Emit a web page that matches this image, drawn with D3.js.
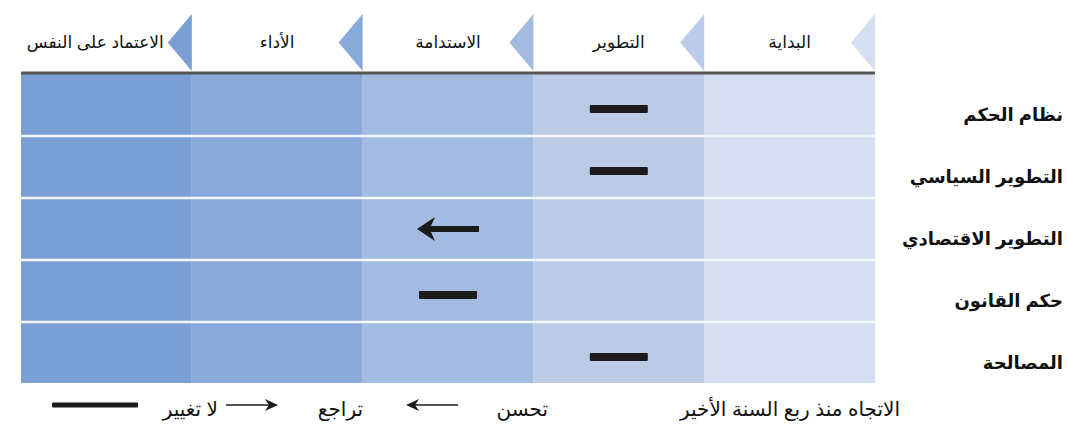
<!DOCTYPE html>
<html>
<head>
<meta charset="utf-8">
<script src="https://cdn.jsdelivr.net/npm/d3@7"></script>
<style>
  body { margin: 0; background: #fff; }
  svg { display: block; font-family: Arial, "Liberation Sans", "DejaVu Sans", sans-serif; }
</style>
</head>
<body>
<svg id="chart" width="1067" height="424"></svg>
<script>
// stages, right to left
const stages = ["البداية", "التطوير", "الاستدامة", "الأداء", "الاعتماد على النفس"];
const stageColors = ["#d5dff1", "#bccbe8", "#a3bbe0", "#89a9da", "#799fd4"];
const areas = ["نظام الحكم", "التطوير السياسي", "التطوير الاقتصادي", "حكم القانون", "المصالحة"];
// stage reached by each area, and trend since last quarter
const areaStage = ["التطوير", "التطوير", "الاستدامة", "الاستدامة", "التطوير"];
const areaTrend = ["same", "same", "up", "same", "same"];

const legendTitle = "الاتجاه منذ ربع السنة الأخير";
const legendLabels = ["تحسن", "تراجع", "لا تغيير"];
const legendTypes = ["up", "down", "same"];

const svg = d3.select("#chart");
const gridLeft = 21, gridRight = 875, gridTop = 74, gridBottom = 384;

const x = d3.scaleBand().domain(stages).range([gridRight, gridLeft]);
const y = d3.scaleBand().domain(areas).range([gridTop, gridBottom]);
const color = d3.scaleOrdinal().domain(stages).range(stageColors);

// column fills
svg.selectAll(".col")
    .data(stages)
    .enter().append("rect")
    .attr("class", "col")
    .attr("x", d => x(d))
    .attr("y", gridTop)
    .attr("width", x.bandwidth())
    .attr("height", gridBottom - gridTop - 1)
    .attr("fill", d => color(d));

// row separators
svg.selectAll(".sep")
    .data(areas.slice(1))
    .enter().append("line")
    .attr("class", "sep")
    .attr("x1", gridLeft).attr("x2", gridRight)
    .attr("y1", d => y(d)).attr("y2", d => y(d))
    .attr("stroke", "#f4f7fc")
    .attr("stroke-width", 2.5);

// top rule
svg.append("line")
    .attr("x1", gridLeft).attr("x2", gridRight)
    .attr("y1", 73).attr("y2", 73)
    .attr("stroke", "#555")
    .attr("stroke-width", 3);

// header triangles and labels
const triW = 24, triTop = 14, triBot = 71;
svg.selectAll(".tri")
    .data(stages)
    .enter().append("path")
    .attr("class", "tri")
    .attr("d", d => {
        const xr = x(d) + x.bandwidth();
        return `M${xr},${triTop}L${xr},${triBot}L${xr - triW},${(triTop + triBot) / 2}Z`;
    })
    .attr("fill", d => color(d));

svg.selectAll(".head")
    .data(stages)
    .enter().append("text")
    .attr("class", "head")
    .attr("x", d => x(d) + x.bandwidth() / 2)
    .attr("y", 48)
    .attr("text-anchor", "middle")
    .attr("font-size", 17)
    .attr("fill", "#111")
    .text(d => d)
    .each(function(d) {
        const w = this.getComputedTextLength();
        const tip = x(d) + x.bandwidth() - triW - 4;
        const cx = x(d) + x.bandwidth() / 2;
        if (cx + w / 2 > tip) d3.select(this).attr("x", tip - w / 2);
    });

// row labels
svg.selectAll(".area")
    .data(areas)
    .enter().append("text")
    .attr("class", "area")
    .attr("x", 1063)
    .attr("y", d => y(d) + y.bandwidth() / 2 + 16)
    .attr("text-anchor", "end")
    .attr("font-size", 18)
    .attr("font-weight", "bold")
    .attr("fill", "#111")
    .text(d => d);

// trend markers
function marker(g, type, cx, cy, big) {
    if (type === "same") {
        const w = big ? 58 : 86, h = big ? 8 : 5;
        g.append("rect")
            .attr("x", cx - w / 2).attr("y", cy - h / 2)
            .attr("width", w).attr("height", h)
            .attr("rx", 1)
            .attr("fill", "#1d1a1a");
    } else {
        const dir = type === "up" ? -1 : 1; // up = move left
        const len = big ? 62 : 52, sw = big ? 6 : 1.5;
        const hw = big ? 18 : 13, hh = big ? 12 : 6;
        const tipX = cx + dir * len / 2, tailX = cx - dir * len / 2;
        g.append("line")
            .attr("x1", tailX).attr("x2", tipX - dir * hw * 0.6)
            .attr("y1", cy).attr("y2", cy)
            .attr("stroke", "#1d1a1a")
            .attr("stroke-width", sw);
        g.append("path")
            .attr("d", `M${tipX},${cy}L${tipX - dir * hw},${cy - hh}L${tipX - dir * hw * 0.7},${cy}L${tipX - dir * hw},${cy + hh}Z`)
            .attr("fill", "#1d1a1a");
    }
}

const marks = svg.append("g");
areas.forEach((a, i) => {
    const cy = y(a) + y.bandwidth() / 2 + (areaTrend[i] === "same" ? 4 : 0);
    marker(marks, areaTrend[i], x(areaStage[i]) + x.bandwidth() / 2, cy, true);
});

// legend
const legY = 416;
svg.append("text")
    .attr("x", 900).attr("y", legY)
    .attr("text-anchor", "end")
    .attr("font-size", 20)
    .attr("fill", "#111")
    .text(legendTitle);

const legTextRight = [548, 363, 218];
const legSymCenter = [432, 252, 95];
const leg = svg.append("g");
legendLabels.forEach((l, i) => {
    leg.append("text")
        .attr("x", legTextRight[i]).attr("y", legY)
        .attr("text-anchor", "end")
        .attr("font-size", 20)
        .attr("fill", "#111")
        .text(l);
    marker(leg, legendTypes[i], legSymCenter[i], 405, false);
});
</script>
</body>
</html>
